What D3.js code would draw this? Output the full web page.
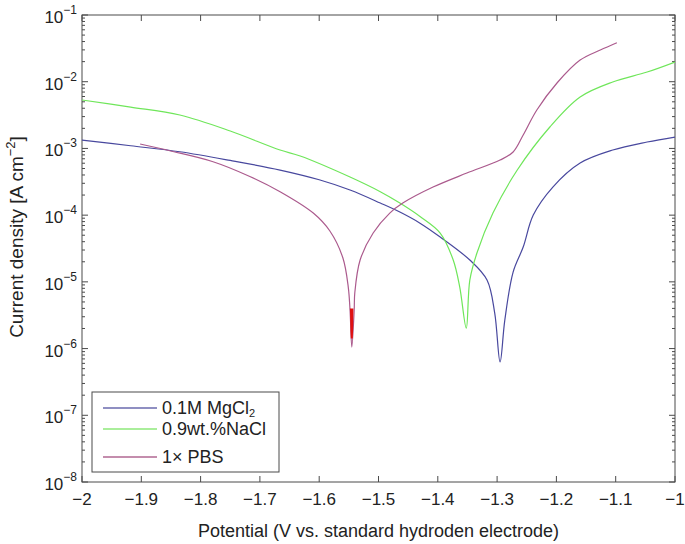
<!DOCTYPE html>
<html><head><meta charset="utf-8">
<script src="https://cdn.jsdelivr.net/npm/d3@7"></script>
<style>body{margin:0;background:#fff}svg{display:block}text{font-family:"Liberation Sans",Arial,sans-serif;fill:#222}</style>
</head><body>
<script>
// Potential (V) and log10 of current density (A cm^-2)
const mgcl2V   = [-2.0,-1.918,-1.835,-1.750,-1.666,-1.600,-1.548,-1.497,-1.464,-1.430,-1.396,-1.346,-1.317,-1.304,-1.295,-1.287,-1.273,-1.256,-1.239,-1.206,-1.160,-1.105,-1.047,-1.0];
const mgcl2Log = [-2.874,-2.960,-3.050,-3.180,-3.324,-3.470,-3.624,-3.819,-3.954,-4.120,-4.328,-4.673,-4.973,-5.468,-6.20,-5.573,-4.853,-4.478,-3.999,-3.579,-3.219,-3.024,-2.904,-2.829];
const naclV    = [-2.0,-1.918,-1.835,-1.750,-1.666,-1.632,-1.548,-1.497,-1.464,-1.430,-1.396,-1.374,-1.363,-1.352,-1.346,-1.334,-1.307,-1.266,-1.211,-1.160,-1.105,-1.047,-1.0];
const naclLog  = [-2.274,-2.380,-2.499,-2.739,-3.024,-3.114,-3.429,-3.649,-3.819,-4.020,-4.268,-4.673,-5.078,-5.693,-4.973,-4.568,-3.969,-3.324,-2.679,-2.229,-2.004,-1.855,-1.705];
const pbsV     = [-1.902,-1.852,-1.779,-1.717,-1.666,-1.610,-1.582,-1.560,-1.551,-1.548,-1.545,-1.541,-1.540,-1.531,-1.509,-1.481,-1.459,-1.408,-1.351,-1.295,-1.273,-1.256,-1.233,-1.199,-1.160,-1.126,-1.098];
const pbsLog   = [-2.934,-3.035,-3.199,-3.420,-3.649,-3.969,-4.238,-4.643,-5.078,-5.423,-5.977,-5.42,-5.168,-4.673,-4.268,-3.969,-3.819,-3.579,-3.369,-3.174,-3.054,-2.799,-2.424,-2.019,-1.675,-1.525,-1.415];
const pbsRedV   = [-1.5465,-1.5455,-1.5450,-1.5445,-1.5440];
const pbsRedLog = [-5.40,-5.75,-5.85,-5.70,-5.40];
const xTicks = [-2,-1.9,-1.8,-1.7,-1.6,-1.5,-1.4,-1.3,-1.2,-1.1,-1];
const xTickLabels = ["\u22122","\u22121.9","\u22121.8","\u22121.7","\u22121.6","\u22121.5","\u22121.4","\u22121.3","\u22121.2","\u22121.1","\u22121"];
const yExponents = [-1,-2,-3,-4,-5,-6,-7,-8];
const seriesNames = ["0.1M MgCl","0.9wt.%NaCl","1\u00d7 PBS"];
const colors = ["#48489e","#6fe65a","#ab5a8d"];
const legendColors = ["#6a6aae","#8ee87a","#b06792"];

const W=685,H=544, L=82,R=675,T=15,B=482;
const svg=d3.select("body").append("svg").attr("width",W).attr("height",H);
const x=d3.scaleLinear().domain([-2,-1]).range([L,R]);
const y=d3.scaleLog().domain([1e-8,1e-1]).range([B,T]);

const minor=[];
for(let e=-8;e<-1;e++) for(let m=2;m<=9;m++) minor.push(m*Math.pow(10,e));
const axisCol="#4a4a4a";
const g=svg.append("g");
minor.forEach(v=>{
  g.append("line").attr("x1",L).attr("x2",L+3).attr("y1",y(v)).attr("y2",y(v)).attr("stroke",axisCol);
  g.append("line").attr("x1",R).attr("x2",R-3).attr("y1",y(v)).attr("y2",y(v)).attr("stroke",axisCol);
});
yExponents.forEach(e=>{
  const v=Math.pow(10,e);
  g.append("line").attr("x1",L).attr("x2",L+6).attr("y1",y(v)).attr("y2",y(v)).attr("stroke",axisCol);
  g.append("line").attr("x1",R).attr("x2",R-6).attr("y1",y(v)).attr("y2",y(v)).attr("stroke",axisCol);
  const t=g.append("text").attr("x",L-5).attr("y",y(v)+8).attr("text-anchor","end").style("font-size","17px");
  t.append("tspan").text("10");
  t.append("tspan").attr("dy",-9).style("font-size","12px").text("\u2212"+(-e));
});
xTicks.forEach((v,i)=>{
  g.append("line").attr("x1",x(v)).attr("x2",x(v)).attr("y1",B).attr("y2",B-6).attr("stroke",axisCol);
  g.append("line").attr("x1",x(v)).attr("x2",x(v)).attr("y1",T).attr("y2",T+6).attr("stroke",axisCol);
  g.append("text").attr("x",x(v)).attr("y",B+23).attr("text-anchor","middle").style("font-size","17px").text(xTickLabels[i]);
});
g.append("rect").attr("x",L).attr("y",T).attr("width",R-L).attr("height",B-T).attr("fill","none").attr("stroke",axisCol);

const line=d3.line().curve(d3.curveCatmullRom.alpha(0.5)).x(d=>x(d[0])).y(d=>y(Math.pow(10,d[1])));
const series=[[mgcl2V,mgcl2Log],[naclV,naclLog],[pbsV,pbsLog]];
svg.append("clipPath").attr("id","c").append("rect").attr("x",L).attr("y",T).attr("width",R-L).attr("height",B-T);
series.forEach((s,i)=>{
  svg.append("path").attr("clip-path","url(#c)").attr("d",line(d3.zip(s[0],s[1]))).attr("fill","none").attr("stroke",colors[i]).attr("stroke-width",1.2);
});
svg.append("path").attr("d",d3.line().x(d=>x(d[0])).y(d=>y(Math.pow(10,d[1])))(d3.zip(pbsRedV,pbsRedLog))).attr("fill","none").attr("stroke","#e01010").attr("stroke-width",2);

// legend
const lg=svg.append("g");
lg.append("rect").attr("x",92).attr("y",392).attr("width",187).attr("height",80).attr("fill","#fff").attr("stroke",axisCol);
const ly=[408,429,457];
seriesNames.forEach((n,i)=>{
  lg.append("line").attr("x1",103).attr("x2",157).attr("y1",ly[i]).attr("y2",ly[i]).attr("stroke",legendColors[i]).attr("stroke-width",1.5);
  const t=lg.append("text").attr("x",162).attr("y",ly[i]+6).style("font-size","18px");
  t.append("tspan").text(n);
  if(i===0) t.append("tspan").attr("dy",3).style("font-size","11px").text("2");
});

// axis titles
svg.append("text").attr("x",(L+R)/2).attr("y",537).attr("text-anchor","middle").style("font-size","18px").text("Potential (V vs. standard hydroden electrode)");
const yt=svg.append("text").attr("transform",`translate(23,237) rotate(-90)`).attr("text-anchor","middle").style("font-size","19px");
yt.append("tspan").text("Current density [A cm");
yt.append("tspan").attr("dy",-8).style("font-size","13px").text("\u22122");
yt.append("tspan").attr("dy",8).text("]");
</script>
</body></html>
